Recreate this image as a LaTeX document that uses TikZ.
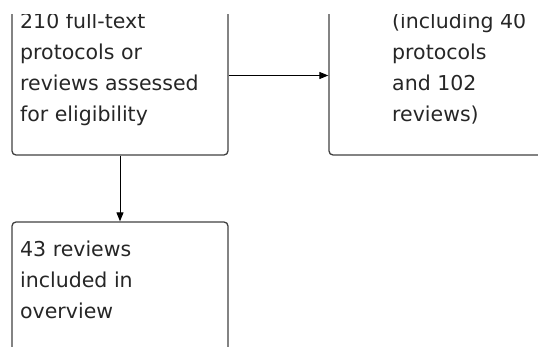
\documentclass[tikz,border=0pt]{standalone}
\usepackage{fontspec}
\setmainfont{DejaVu Sans}
\usetikzlibrary{arrows.meta}

\begin{document}
\begin{tikzpicture}[x=1pt,y=-1pt,>={Triangle[length=9pt,width=7pt]},
  box/.style={draw=black!75,line width=1.3pt,rounded corners=4pt,inner sep=0pt},
  boxtext/.style={anchor=north west,inner sep=0pt,align=left,text=black!85,font=\fontsize{20.5}{31}\selectfont},
  flow/.style={->,line width=1pt}]
  \useasboundingbox(0,0)rectangle(538,347);
  \clip(0,15)rectangle(538,347);
  % boxes, cut off by the frame
  \node[box,minimum width=216pt,minimum height=159pt](assessed)at(120,75.5){};
  \node[box,minimum width=260pt,minimum height=159pt](excluded)at(459,75.5){};
  \node[box,minimum width=216pt,minimum height=200pt](included)at(120,322){};
  % texts
  \node[boxtext](assessedText)at(20,13){210 full-text\\protocols or\\reviews assessed\\for eligibility};
  \node[boxtext](excludedText)at(392,13){(including 40\\protocols\\and 102\\reviews)};
  \node[boxtext](includedText)at(20,240.5){43 reviews\\included in\\overview};
  % connectors
  \draw[flow](assessed.east)--(excluded.west);
  \draw[flow](assessed.south)--(included.north);
\end{tikzpicture}
\end{document}
